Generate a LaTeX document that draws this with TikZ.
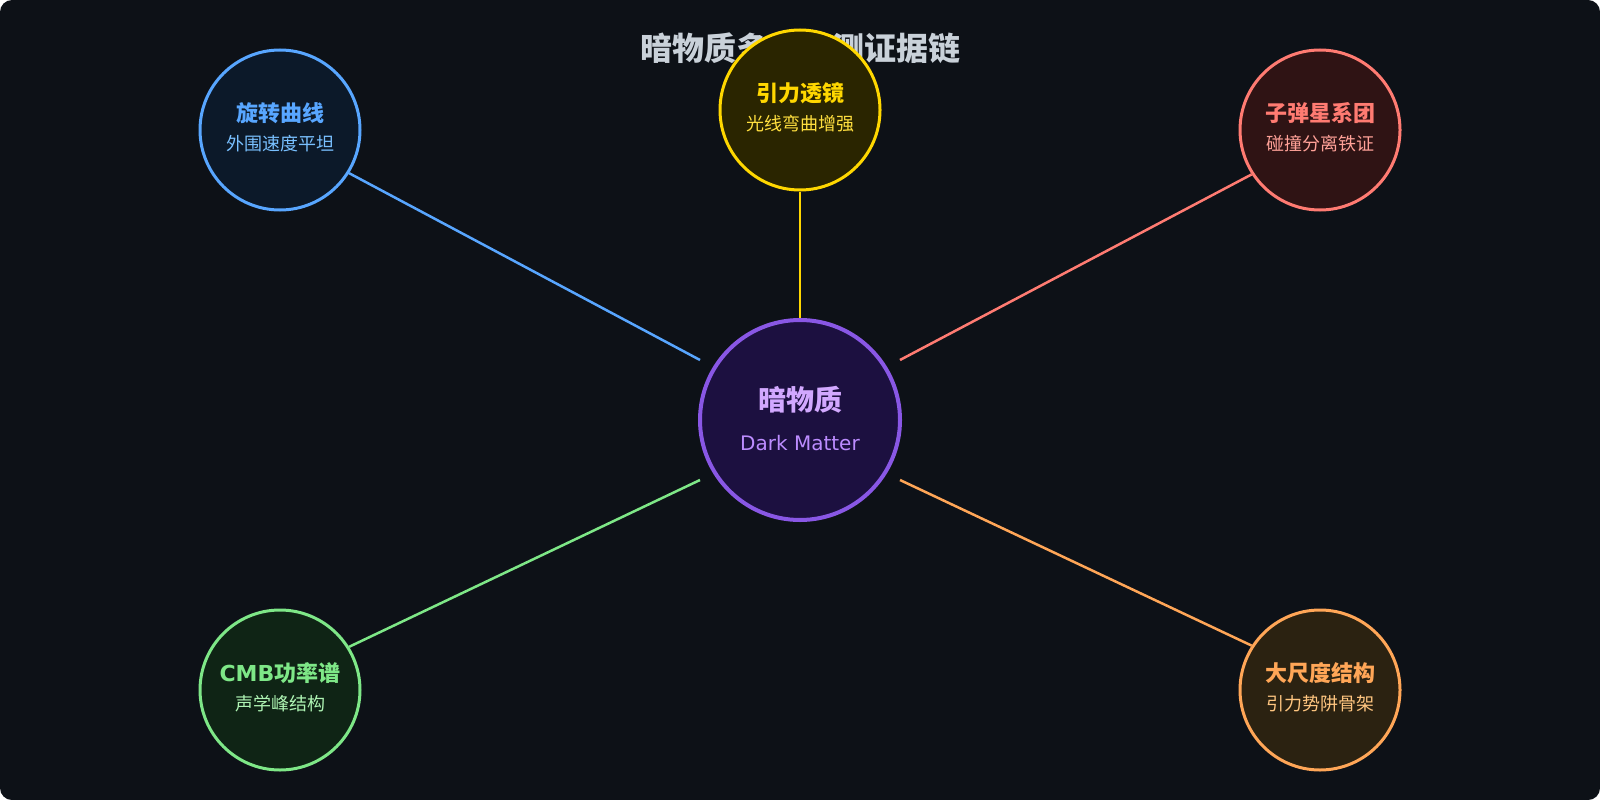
\documentclass[tikz,border=0pt]{standalone}
\usepackage{fontspec}
\setmainfont{DejaVu Sans}
\newfontfamily\cjk{Noto Sans CJK SC}
\usetikzlibrary{calc}

\newcommand{\satsize}{160}
\newcommand{\hubdx}{100}
\newcommand{\hubdy}{60}
\newcommand{\lift}[2]{\raisebox{#1}[\height][\depth]{#2}}

\definecolor{page}{HTML}{0D1117}
\definecolor{heading}{HTML}{C9D1D9}
\definecolor{dmline}{HTML}{8957E5}
\definecolor{dmfill}{HTML}{1C1040}
\definecolor{dmmain}{HTML}{D2A8FF}
\definecolor{dmsub}{HTML}{BC8CFF}
\definecolor{rotline}{HTML}{58A6FF}
\definecolor{rotfill}{HTML}{0C1929}
\definecolor{rotmain}{HTML}{58A6FF}
\definecolor{rotsub}{HTML}{79C0FF}
\definecolor{lensline}{HTML}{FFD700}
\definecolor{lensfill}{HTML}{2A2500}
\definecolor{lensmain}{HTML}{FFD700}
\definecolor{lenssub}{HTML}{FFDF3F}
\definecolor{bulletline}{HTML}{FF7B72}
\definecolor{bulletfill}{HTML}{2F1314}
\definecolor{bulletmain}{HTML}{FF7B72}
\definecolor{bulletsub}{HTML}{FFA198}
\definecolor{cmbline}{HTML}{7EE787}
\definecolor{cmbfill}{HTML}{0F2415}
\definecolor{cmbmain}{HTML}{7EE787}
\definecolor{cmbsub}{HTML}{AFF5B4}
\definecolor{lssline}{HTML}{FFA657}
\definecolor{lssfill}{HTML}{2B2211}
\definecolor{lssmain}{HTML}{FFA657}
\definecolor{lsssub}{HTML}{FFC680}

\begin{document}
\begin{tikzpicture}[x=1pt,y=-1pt,
	sat/.style={circle, minimum size=\satsize pt, inner sep=0pt, line width=3pt, align=center, font=\cjk\fontsize{18}{29}\selectfont},
	link/.style={line width=2.5pt}]

	\fill[page, rounded corners=12pt] (0,0) rectangle (1600,800);

	\node[text=heading, font=\cjk\bfseries\fontsize{32}{36}\selectfont] (title) at (800,48) {暗物质多重观测证据链};

	\node[circle, minimum size=200pt, inner sep=0pt, line width=4pt, draw=dmline, fill=dmfill, text=dmmain, align=center, font=\fontsize{20}{40}\selectfont] (dm) at (800,420) {\lift{2pt}{\cjk\bfseries\fontsize{28}{40}\selectfont 暗物质}\\\lift{2pt}{\color{dmsub}Dark Matter}};

	\foreach \n/\x/\y/\a/\b in {rot/280/130/旋转曲线/外围速度平坦, lens/800/110/引力透镜/光线弯曲增强, bullet/1320/130/子弹星系团/碰撞分离铁证, cmb/280/690/{{\rmfamily CMB}功率谱}/声学峰结构, lss/1320/690/大尺度结构/引力势阱骨架}
	{
		\node[sat, draw=\n line, fill=\n fill, text=\n main] (\n) at (\x,\y) {\lift{3pt}{\bfseries\fontsize{22}{29}\selectfont \a}\\\lift{3pt}{\color{\n sub}\b}};
	}

	\coordinate (hubNW) at ($(dm)+(-\hubdx,-\hubdy)$);
	\coordinate (hubNE) at ($(dm)+(\hubdx,-\hubdy)$);
	\coordinate (hubSW) at ($(dm)+(-\hubdx,\hubdy)$);
	\coordinate (hubSE) at ($(dm)+(\hubdx,\hubdy)$);

	\draw[link, lensline] (lens.south) -- (dm.north);
	\foreach \n/\s/\h in {rot/-32.7/hubNW, bullet/-147.3/hubNE, cmb/32.7/hubSW, lss/147.3/hubSE}
	{
		\draw[link, \n line] (\n.\s) -- (\h);
	}

\end{tikzpicture}
\end{document}
